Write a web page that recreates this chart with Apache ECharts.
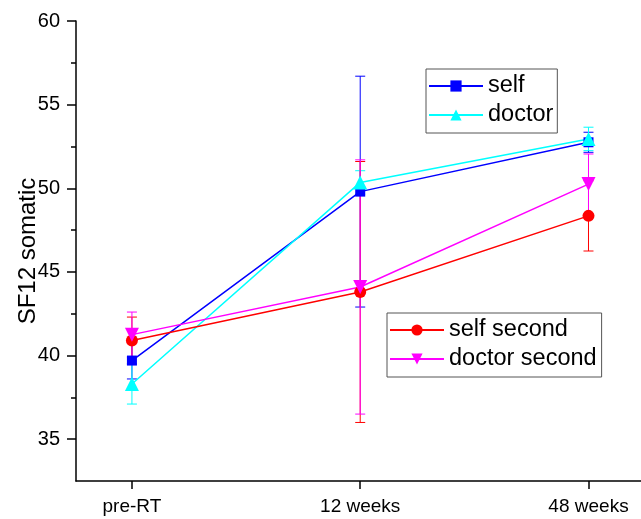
<!DOCTYPE html>
<html>
<head>
<meta charset="utf-8">
<script src="https://cdn.jsdelivr.net/npm/echarts@6/dist/echarts.min.js"></script>
<style>
  html, body { margin: 0; padding: 0; background: #fff; }
  #chart { width: 641px; height: 519px; }
</style>
</head>
<body>
<div id="chart"></div>
<script>
  // categories on x axis
  const categories = ['pre-RT', '12 weeks', '48 weeks']
  // means and error (SD) per series
  const selfMean = [39.7, 49.8, 52.75]
  const selfErr = [1.1, 6.9, 0.6]
  const doctorMean = [38.3, 50.35, 52.95]
  const doctorErr = [1.2, 0.7, 0.7]
  const selfSecondMean = [40.9, 43.8, 48.35]
  const selfSecondErr = [1.4, 7.8, 2.1]
  const doctorSecondMean = [41.25, 44.1, 50.25]
  const doctorSecondErr = [1.35, 7.6, 1.8]
  // y tick labels
  const yMajor = [35, 40, 45, 50, 55, 60]
  const yMinor = [37.5, 42.5, 47.5, 52.5, 57.5]

  const font = '"Liberation Sans", Arial, sans-serif'

  const toPoints = (means) => means.map((v, i) => [i, v])
  const toBars = (means, errs) => means.map((v, i) => [i, v - errs[i], v + errs[i]])

  // draws one vertical error bar with caps
  const renderErr = (params, api) => {
    const x = api.value(0)
    const lo = api.coord([x, api.value(1)])
    const hi = api.coord([x, api.value(2)])
    const hw = 5
    const style = { stroke: api.visual('color'), lineWidth: 1 }
    return {
      type: 'group',
      children: [
        { type: 'line', shape: { x1: lo[0], y1: lo[1], x2: hi[0], y2: hi[1] }, style },
        { type: 'line', shape: { x1: hi[0] - hw, y1: hi[1], x2: hi[0] + hw, y2: hi[1] }, style },
        { type: 'line', shape: { x1: lo[0] - hw, y1: lo[1], x2: lo[0] + hw, y2: lo[1] }, style }
      ]
    }
  }

  const seriesDefs = [
    { name: 'self', color: '#0000ff', mean: selfMean, err: selfErr, symbol: 'rect', size: 10, rotate: 0 },
    { name: 'doctor', color: '#00ffff', mean: doctorMean, err: doctorErr, symbol: 'triangle', size: 14, rotate: 0 },
    { name: 'self second', color: '#ff0000', mean: selfSecondMean, err: selfSecondErr, symbol: 'circle', size: 12, rotate: 0 },
    { name: 'doctor second', color: '#ff00ff', mean: doctorSecondMean, err: doctorSecondErr, symbol: 'triangle', size: 14, rotate: 180 }
  ]

  const series = []
  seriesDefs.forEach((s) => {
    series.push({
      type: 'custom',
      name: s.name + ' err',
      renderItem: renderErr,
      itemStyle: { color: s.color },
      data: toBars(s.mean, s.err),
      z: 1
    })
  })
  seriesDefs.forEach((s) => {
    series.push({
      type: 'line',
      name: s.name,
      data: toPoints(s.mean),
      symbol: s.symbol,
      symbolSize: s.size,
      symbolRotate: s.rotate,
      showAllSymbol: true,
      color: s.color,
      lineStyle: { color: s.color, width: 1.5 },
      itemStyle: { color: s.color },
      z: 2
    })
  })

  const legendBase = {
    orient: 'vertical',
    borderColor: '#555',
    borderWidth: 1,
    itemWidth: 54,
    itemHeight: 14,
    itemGap: 5,
    textStyle: { fontFamily: font, fontSize: 23.5, color: '#000', lineHeight: 23 }
  }

  const chart = echarts.init(document.getElementById('chart'))
  chart.setOption({
    animation: false,
    backgroundColor: '#fff',
    grid: { left: 76, right: 0, top: 21, bottom: 38 },
    legend: [
      Object.assign({}, legendBase, {
        left: 426, top: 69, padding: [5, 4, 6, 2],
        data: ['self', 'doctor']
      }),
      Object.assign({}, legendBase, {
        left: 387, top: 313, padding: [5, 5, 6, 2],
        data: ['self second', 'doctor second']
      })
    ],
    xAxis: {
      type: 'value',
      min: -0.245,
      max: 2.23,
      splitLine: { show: false },
      axisLine: { show: true, onZero: false, lineStyle: { color: '#000', width: 1.5 } },
      axisTick: { show: true, customValues: [0, 1, 2], length: 8, lineStyle: { color: '#000', width: 1.5 } },
      axisLabel: {
        customValues: [0, 1, 2],
        formatter: (v) => categories[Math.round(v)],
        fontFamily: font, fontSize: 19, color: '#000', margin: 16
      }
    },
    yAxis: [
      {
        type: 'value',
        min: 32.5,
        max: 60,
        name: 'SF12 somatic',
        nameLocation: 'middle',
        nameGap: 36,
        nameMoveOverlap: false,
        nameTextStyle: { fontFamily: font, fontSize: 24, color: '#000' },
        splitLine: { show: false },
        axisLine: { show: true, onZero: false, lineStyle: { color: '#000', width: 1.5 } },
        axisTick: { show: true, customValues: yMajor, length: 9, lineStyle: { color: '#000', width: 1.5 } },
        axisLabel: { customValues: yMajor, fontFamily: font, fontSize: 20, color: '#000', margin: 16 }
      },
      {
        type: 'value',
        min: 32.5,
        max: 60,
        position: 'left',
        splitLine: { show: false },
        axisLine: { show: false, onZero: false },
        axisTick: { show: true, customValues: yMinor, length: 5, lineStyle: { color: '#000', width: 1.5 } },
        axisLabel: { show: false }
      }
    ],
    series: series
  })
</script>
</body>
</html>
